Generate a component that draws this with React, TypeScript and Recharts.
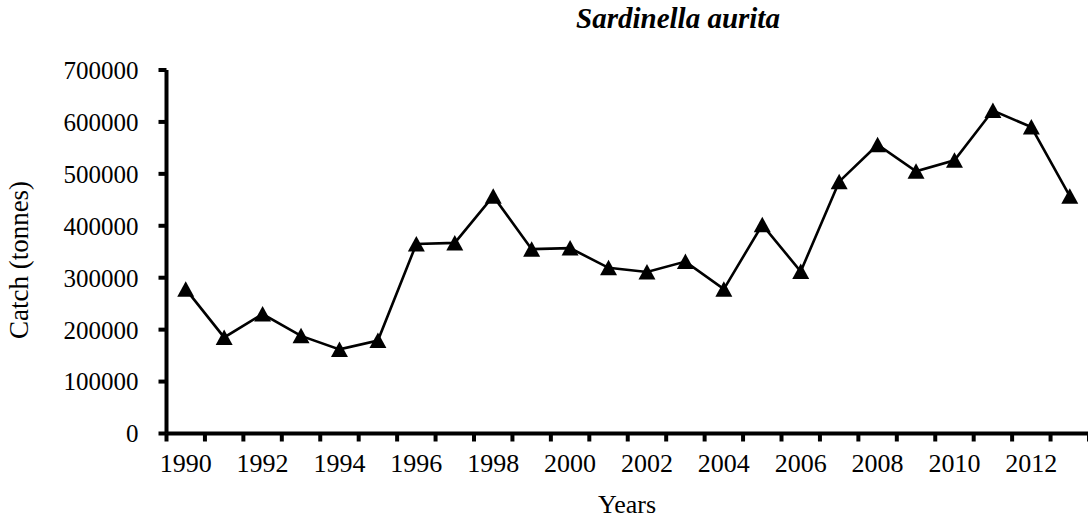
import React from 'react';
import { LineChart, Line, XAxis, YAxis, Label } from 'recharts';

const years = ['1990','1991','1992','1993','1994','1995','1996','1997','1998','1999','2000','2001','2002','2003','2004','2005','2006','2007','2008','2009','2010','2011','2012','2013'];
const catches = [278000,185000,230000,188000,162000,179000,365000,367000,457000,355000,357000,319000,311000,331000,278000,402000,312000,485000,556000,505000,526000,622000,590000,457000];
const yTicks = [0,100000,200000,300000,400000,500000,600000,700000];
const labeledYears = ['1990','1992','1994','1996','1998','2000','2002','2004','2006','2008','2010','2012'];

const data = years.map((y, i) => ({ year: y, catch: catches[i] }));

const FONT = '"Liberation Serif", "Times New Roman", serif';
const TICK_SIZE = 8;
const TICK_MARGIN = 12;

const XTick = (props: any) => {
  const { x, y, payload, index, visibleTicksCount } = props;
  const off = payload && typeof payload.offset === 'number' && payload.offset > 0 ? payload.offset : 19.2;
  const axisY = y - TICK_SIZE - TICK_MARGIN;
  const isLast = index === (visibleTicksCount ?? years.length) - 1;
  return (
    <g>
      <line x1={x - off} y1={axisY} x2={x - off} y2={axisY + TICK_SIZE} stroke="#000" strokeWidth={4} />
      {isLast && <line x1={x + off} y1={axisY} x2={x + off} y2={axisY + TICK_SIZE} stroke="#000" strokeWidth={4} />}
      {labeledYears.includes(payload.value) && (
        <text x={x} y={y} dy="0.71em" textAnchor="middle" fontFamily={FONT} fontSize={26} fill="#000">
          {payload.value}
        </text>
      )}
    </g>
  );
};

const Triangle = (props: any) => {
  const { cx, cy, index } = props;
  if (cx == null || cy == null) return <g key={index} />;
  return (
    <path key={index} d={`M${cx},${cy - 8} L${cx + 8.5},${cy + 7.5} L${cx - 8.5},${cy + 7.5} Z`} fill="#000" stroke="none" />
  );
};

export default function App() {
  return (
    <div style={{ position: 'absolute', left: 0, top: 0, width: 1088, height: 519, background: '#fff', overflow: 'hidden' }}>
      <LineChart width={1088} height={519} data={data} margin={{ top: 70, right: -1, bottom: 0, left: 0 }}>
        <XAxis
          dataKey="year"
          type="category"
          scale="band"
          height={85.5}
          interval={0}
          tickLine={false}
          tickSize={TICK_SIZE}
          tickMargin={TICK_MARGIN}
          axisLine={{ stroke: '#000', strokeWidth: 4 }}
          tick={<XTick />}
        >
          <Label
            content={() => (
              <text x={627} y={513} textAnchor="middle" fontFamily={FONT} fontSize={26} fill="#000">Years</text>
            )}
          />
        </XAxis>
        <YAxis
          type="number"
          domain={[0, 700000]}
          ticks={yTicks}
          interval={0}
          width={166.5}
          tickSize={TICK_SIZE}
          tickMargin={20}
          axisLine={{ stroke: '#000', strokeWidth: 4 }}
          tickLine={{ stroke: '#000', strokeWidth: 4 }}
          tick={{ fontFamily: FONT, fontSize: 25, fill: '#000' }}
        >
          <Label
            content={() => (
              <text x={28} y={260} transform="rotate(-90 28 260)" textAnchor="middle" fontFamily={FONT} fontSize={27} fill="#000">Catch (tonnes)</text>
            )}
          />
          <Label
            content={() => (
              <text x={678} y={28} textAnchor="middle" fontFamily={FONT} fontSize={29} fontWeight="bold" fontStyle="italic" fill="#000">Sardinella aurita</text>
            )}
          />
        </YAxis>
        <Line
          type="linear"
          dataKey="catch"
          stroke="#000"
          strokeWidth={2.6}
          dot={Triangle}
          activeDot={false}
          isAnimationActive={false}
        />
      </LineChart>
    </div>
  );
}
